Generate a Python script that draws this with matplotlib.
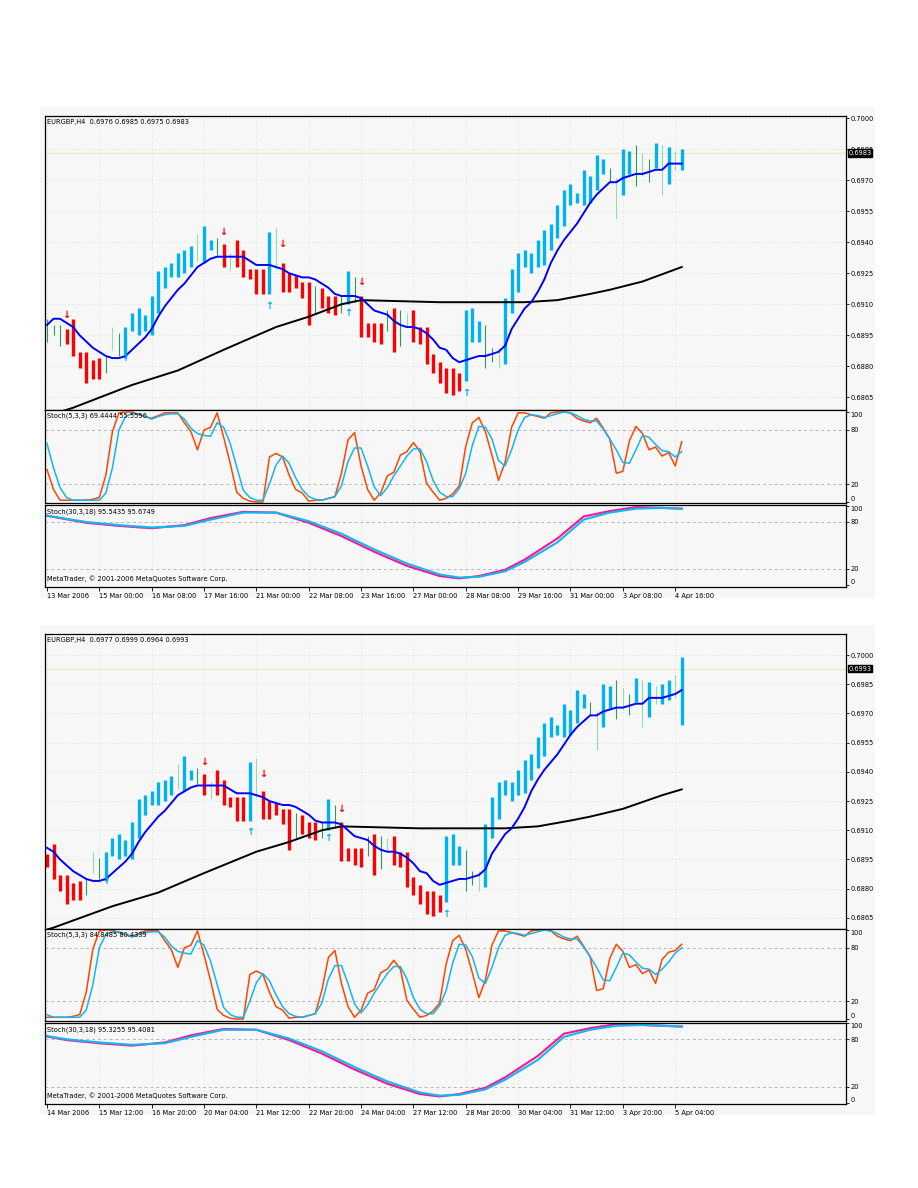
import numpy as np
import matplotlib
matplotlib.use('Agg')
import matplotlib.pyplot as plt
from matplotlib.patches import Rectangle

# EURGBP H4 bars, one series; the upper screenshot shows bars 0-97,
# the lower one (taken 3 bars later) shows bars 3-100
bar_low = [0.6892, 0.6895, 0.6890, 0.6891, 0.6885, 0.6879, 0.6872, 0.6874, 0.6874, 0.6877,
           0.6888, 0.6885, 0.6884, 0.6897, 0.6895, 0.6897, 0.6895, 0.6906, 0.6918, 0.6923,
           0.6923, 0.6925, 0.6928, 0.6931, 0.6930, 0.6936, 0.6934, 0.6928, 0.6926, 0.6928,
           0.6923, 0.6922, 0.6915, 0.6915, 0.6915, 0.6927, 0.6916, 0.6916, 0.6918, 0.6913,
           0.6900, 0.6906, 0.6908, 0.6906, 0.6905, 0.6906, 0.6910, 0.6911, 0.6894, 0.6894,
           0.6892, 0.6891, 0.6897, 0.6887, 0.6890, 0.6899, 0.6892, 0.6891, 0.6881, 0.6877,
           0.6872, 0.6867, 0.6866, 0.6868, 0.6873, 0.6892, 0.6892, 0.6879, 0.6882, 0.6879,
           0.6881, 0.6906, 0.6916, 0.6928, 0.6925, 0.6928, 0.6929, 0.6936, 0.6942, 0.6948,
           0.6958, 0.6959, 0.6958, 0.6959, 0.6965, 0.6973, 0.6969, 0.6951, 0.6963, 0.6973,
           0.6967, 0.6972, 0.6969, 0.6976, 0.6963, 0.6968, 0.6975, 0.6975, 0.6977, 0.6978,
           0.6964]
bar_high = [0.6903, 0.6900, 0.6900, 0.6898, 0.6903, 0.6887, 0.6887, 0.6883, 0.6884, 0.6885,
            0.6899, 0.6896, 0.6899, 0.6906, 0.6908, 0.6905, 0.6914, 0.6926, 0.6928, 0.6930,
            0.6935, 0.6936, 0.6938, 0.6944, 0.6948, 0.6941, 0.6942, 0.6939, 0.6935, 0.6941,
            0.6936, 0.6927, 0.6927, 0.6927, 0.6945, 0.6947, 0.6930, 0.6925, 0.6924, 0.6921,
            0.6921, 0.6919, 0.6918, 0.6914, 0.6914, 0.6914, 0.6926, 0.6923, 0.6914, 0.6901,
            0.6901, 0.6901, 0.6907, 0.6908, 0.6907, 0.6906, 0.6907, 0.6899, 0.6899, 0.6886,
            0.6882, 0.6879, 0.6879, 0.6877, 0.6907, 0.6908, 0.6902, 0.6900, 0.6889, 0.6889,
            0.6913, 0.6927, 0.6935, 0.6936, 0.6935, 0.6941, 0.6946, 0.6949, 0.6958, 0.6965,
            0.6968, 0.6964, 0.6975, 0.6972, 0.6982, 0.6980, 0.6976, 0.6971, 0.6985, 0.6984,
            0.6987, 0.6983, 0.6980, 0.6988, 0.6987, 0.6986, 0.6984, 0.6985, 0.6987, 0.6990,
            0.6999]
# u = blue trend bar, d = red trend bar, n / l = plain green bar (dark / pale)
bar_kind = ("nnnddddddnln" "uuuuuuuuuuu" "luundl" "ddddd" "ul" "ddddd" "n" "ddd" "nun"
            "dddd" "ndnl" "dddddddd" "uuunnl" "uuuuuuuuuuuuuuuu" "nluunlnululuulu")

ma_fast = [0.6900, 0.6903, 0.6903, 0.6901, 0.6899, 0.6895, 0.6892, 0.6889, 0.6887, 0.6885,
           0.6884, 0.6884, 0.6885, 0.6888, 0.6891, 0.6894, 0.6898, 0.6904, 0.6909, 0.6913,
           0.6917, 0.6920, 0.6924, 0.6928, 0.6930, 0.6932, 0.6933, 0.6933, 0.6933, 0.6933,
           0.6933, 0.6931, 0.6929, 0.6929, 0.6929, 0.6928, 0.6927, 0.6925, 0.6924, 0.6923,
           0.6923, 0.6922, 0.6920, 0.6918, 0.6915, 0.6914, 0.6914, 0.6914, 0.6913, 0.6910,
           0.6907, 0.6906, 0.6905, 0.6902, 0.6900, 0.6899, 0.6899, 0.6898, 0.6896, 0.6893,
           0.6889, 0.6888, 0.6884, 0.6882, 0.6883, 0.6884, 0.6885, 0.6885, 0.6886, 0.6887,
           0.6890, 0.6898, 0.6903, 0.6908, 0.6911, 0.6916, 0.6922, 0.6930, 0.6936, 0.6941,
           0.6945, 0.6949, 0.6954, 0.6959, 0.6963, 0.6966, 0.6969, 0.6969, 0.6971, 0.6972,
           0.6973, 0.6973, 0.6974, 0.6975, 0.6975, 0.6978, 0.6978, 0.6978, 0.6979, 0.6980,
           0.6982]
ma_slow_idx = [0, 4, 13, 20, 27, 35, 40, 45, 48, 60, 68, 73, 78, 83, 86, 91, 97, 100]
ma_slow_val = [0.6856, 0.6860, 0.6871, 0.6878, 0.6888, 0.6899, 0.6904, 0.6910, 0.6912,
               0.6911, 0.6911, 0.6911, 0.6912, 0.6915, 0.6917, 0.6921, 0.6928, 0.6931]

down_idx = [3, 27, 36, 48]
down_price = [0.6905, 0.6945, 0.6939, 0.6921]
up_idx = [12, 34, 46, 64]
up_price = [0.6884, 0.6909, 0.6906, 0.6867]

stoch_k = [36, 14, 2, 2, 2, 2, 2, 3, 5, 30,
           78, 99, 100, 100, 97, 95, 93, 96, 99, 99,
           99, 88, 78, 58, 80, 83, 99, 72, 43, 11,
           4, 1, 0, 0, 50, 54, 50, 30, 14, 10,
           1, 2, 2, 4, 6, 32, 69, 77, 40, 14,
           2, 10, 29, 33, 52, 56, 66, 56, 21, 11,
           2, 4, 9, 18, 62, 88, 94, 78, 52, 24,
           44, 83, 99, 99, 97, 95, 93, 99, 100, 100,
           99, 93, 90, 88, 93, 82, 70, 32, 34, 68,
           84, 76, 58, 61, 51, 55, 40, 67, 75, 77,
           84]
stoch_d = [65, 38, 16, 5, 2, 2, 2, 2, 2, 10,
           38, 80, 95, 98, 98, 95, 92, 95, 97, 98,
           98, 92, 82, 76, 74, 73, 88, 83, 65, 39,
           13, 5, 2, 2, 20, 41, 51, 43, 27, 14,
           6, 3, 2, 4, 6, 18, 45, 60, 60, 40,
           17, 7, 16, 29, 40, 51, 59, 59, 45, 24,
           11, 6, 6, 15, 32, 63, 84, 83, 70, 46,
           40, 58, 80, 94, 97, 96, 94, 96, 98, 100,
           99, 96, 92, 90, 90, 81, 70, 58, 44, 43,
           58, 74, 72, 64, 57, 56, 50, 56, 64, 74,
           80]

slow_idx = [0, 6, 11, 16, 21, 25, 30, 35, 40, 45, 50, 55, 60, 63, 66, 70, 73, 78, 82, 86, 90, 94, 97, 100]
slow_k = [88, 79, 75, 72, 76, 85, 93, 92, 79, 62, 42, 24, 11, 8, 11, 19, 32, 59, 87, 94, 99, 98, 97, 96]
slow_d = [88, 80, 76, 73, 75, 83, 92, 92, 81, 65, 45, 27, 13, 9, 10, 17, 29, 54, 83, 92, 97, 98, 97, 96]

dates_top = ['13 Mar 2006', '15 Mar 00:00', '16 Mar 08:00', '17 Mar 16:00', '21 Mar 00:00',
             '22 Mar 08:00', '23 Mar 16:00', '27 Mar 00:00', '28 Mar 08:00', '29 Mar 16:00',
             '31 Mar 00:00', '3 Apr 08:00', '4 Apr 16:00']
dates_bot = ['14 Mar 2006', '15 Mar 12:00', '16 Mar 20:00', '20 Mar 04:00', '21 Mar 12:00',
             '22 Mar 20:00', '24 Mar 04:00', '27 Mar 12:00', '28 Mar 20:00', '30 Mar 04:00',
             '31 Mar 12:00', '3 Apr 20:00', '5 Apr 04:00']
price_ticks = [0.7000, 0.6985, 0.6970, 0.6955, 0.6940, 0.6925, 0.6910, 0.6895, 0.6880, 0.6865]

W, H = 918, 1188
BG = '#f7f7f7'
C_UP, C_DN, C_G1, C_G2 = '#00b2f0', '#ff0000', '#2e9a5c', '#96d8b4'
FS = 4.8
N = 98

fig = plt.figure(figsize=(W / 100, H / 100), dpi=100)
fig.patch.set_facecolor('white')


def px_axes(x0, y0, x1, y1):
    a = fig.add_axes([x0 / W, 1 - y1 / H, (x1 - x0) / W, (y1 - y0) / H])
    a.set_facecolor(BG)
    a.set_zorder(2)
    for s in a.spines.values():
        s.set_linewidth(0.9)
    return a


def setup(a, ylim, yt, ytl, xticklabels=None):
    a.set_xlim(-0.3, 122.1)
    a.set_ylim(*ylim)
    a.yaxis.tick_right()
    a.set_yticks(yt)
    a.set_yticklabels(ytl)
    a.set_xticks(range(0, N, 8))
    a.tick_params(axis='y', labelsize=FS, length=2, width=0.6, pad=1)
    if xticklabels is None:
        a.tick_params(axis='x', length=0, labelbottom=False)
    else:
        a.set_xticklabels(xticklabels)
        a.tick_params(axis='x', labelsize=FS, length=3, width=0.6, pad=1)
        for lb in a.get_xticklabels():
            lb.set_ha('left')
    a.grid(axis='x', color='#d4d4d4', linestyle=(0, (1, 3)), lw=0.6)


def stoch_labels(a):
    # 0 and 100 sit inside the panel, as MetaTrader draws them
    lbs = a.get_yticklabels()
    lbs[0].set_va('bottom')
    lbs[-1].set_va('top')


def knots(idx, vals, start):
    # keep only the knots that belong to this screenshot's window
    idx = np.array(idx)
    vals = np.array(vals)
    m = idx <= start + N - 1
    return idx[m] - start, vals[m]


def draw_chart(start, bg, pr, st, sl, header, st_head, sl_head, dates, last, plim, stlim, sllim):
    fig.patches.append(Rectangle((40 / W, 1 - bg[1] / H), 835 / W, (bg[1] - bg[0]) / H,
                                 transform=fig.transFigure, facecolor=BG, edgecolor='none',
                                 zorder=-5))
    xs = np.arange(N)
    w = slice(start, start + N)

    # price panel
    ax = px_axes(45, pr[0], 846, pr[1])
    setup(ax, plim, price_ticks, ['%.4f' % p for p in price_ticks])
    for p in price_ticks:
        ax.axhline(p, color='#d4d4d4', linestyle=(0, (1, 3)), lw=0.6, zorder=0)
    ax.axhline(last, color='#ebe7bb', lw=0.8, zorder=1)
    lows = np.array(bar_low[w])
    highs = np.array(bar_high[w])
    kinds = np.array(list(bar_kind[w]))
    for k, col, lw in [('n', C_G1, 0.8), ('l', C_G2, 0.8), ('u', C_UP, 2.4), ('d', C_DN, 2.4)]:
        m = kinds == k
        ax.vlines(xs[m], lows[m], highs[m], colors=col, lw=lw, zorder=2)
    kx, kv = knots(ma_slow_idx, ma_slow_val, start)
    ax.plot(kx, kv, color='black', lw=1.4, zorder=3)
    ax.plot(xs, ma_fast[w], color='#0000ff', lw=1.4, zorder=3)
    for i, p in zip(down_idx, down_price):
        if i - start > 0:
            ax.text(i - start, p, '\u2193', color='red', fontsize=7, fontweight='bold',
                    ha='center', va='center', zorder=4)
    for i, p in zip(up_idx, up_price):
        if i - start > 0:
            ax.text(i - start, p, '\u2191', color='#00b2f0', fontsize=7, fontweight='bold',
                    ha='center', va='center', zorder=4)
    ax.text(0.003, 0.99, header, transform=ax.transAxes, fontsize=FS, va='top', ha='left')
    ax.text(1.003, last, '%.4f' % last, transform=ax.get_yaxis_transform(), fontsize=FS,
            color='white', va='center', ha='left', zorder=6, clip_on=False,
            bbox=dict(boxstyle='square,pad=0.12', fc='black', ec='black'))

    # Stoch(5,3,3)
    a2 = px_axes(45, st[0], 846, st[1])
    setup(a2, stlim, [0, 20, 80, 100], ['0', '20', '80', '100'])
    stoch_labels(a2)
    for lvl in (20, 80):
        a2.axhline(lvl, color='#b4b4b4', linestyle=(0, (3, 3)), lw=0.7)
    a2.plot(xs, stoch_k[w], color='#ff4500', lw=1.1)
    a2.plot(xs, stoch_d[w], color='#12b6f0', lw=1.1)
    a2.text(0.003, 0.97, st_head, transform=a2.transAxes, fontsize=FS, va='top', ha='left')

    # Stoch(30,3,18)
    a3 = px_axes(45, sl[0], 846, sl[1])
    setup(a3, sllim, [0, 20, 80, 100], ['0', '20', '80', '100'], dates)
    stoch_labels(a3)
    for lvl in (20, 80):
        a3.axhline(lvl, color='#b4b4b4', linestyle=(0, (3, 3)), lw=0.7)
    sx, sk = knots(slow_idx, slow_k, start)
    _, sd = knots(slow_idx, slow_d, start)
    a3.plot(sx, sk, color='#ff1493', lw=1.5)
    a3.plot(sx, sd, color='#12b6f0', lw=1.5)
    a3.text(0.003, 0.96, sl_head, transform=a3.transAxes, fontsize=FS, va='top', ha='left')
    a3.text(0.003, 0.06, 'MetaTrader, \u00a9 2001-2006 MetaQuotes Software Corp.',
            transform=a3.transAxes, fontsize=FS, va='bottom', ha='left')


draw_chart(0, (107, 598), (116, 410), (410, 503), (505, 587),
           'EURGBP,H4  0.6976 0.6985 0.6975 0.6983', 'Stoch(5,3,3) 69.4444 55.5556',
           'Stoch(30,3,18) 95.5435 95.6749', dates_top, 0.6983,
           (0.68589, 0.70010), (-1.1, 102.2), (-3, 101.7))
draw_chart(3, (625, 1115), (634, 929), (929, 1021), (1023, 1104),
           'EURGBP,H4  0.6977 0.6999 0.6964 0.6993', 'Stoch(5,3,3) 84.8485 80.4339',
           'Stoch(30,3,18) 95.3255 95.4081', dates_bot, 0.6993,
           (0.68593, 0.70108), (-2.2, 101.1), (-1.5, 100.5))

fig.savefig('out.png', dpi=100, facecolor='white')
